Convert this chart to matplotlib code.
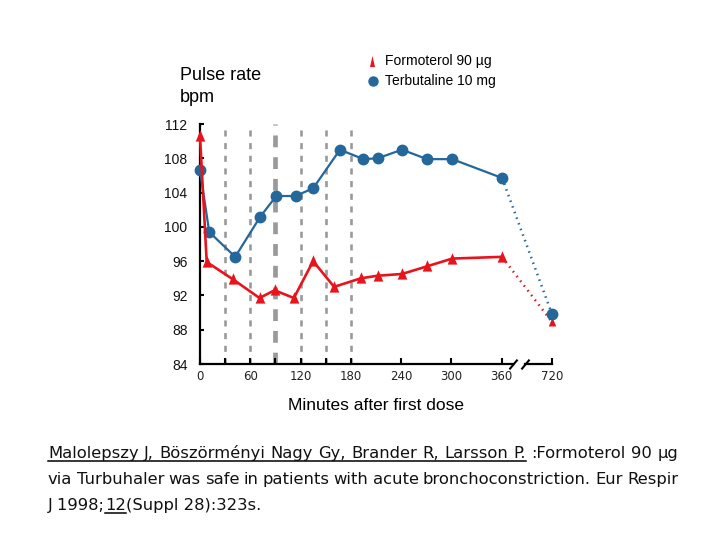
import numpy as np
import matplotlib
matplotlib.use("Agg")
import matplotlib.pyplot as plt
from matplotlib.lines import Line2D

# ---------------- data ----------------
minutes_formoterol = [0, 8, 39, 71, 89, 112, 135, 160, 192, 212, 241, 271, 301, 362, 720]
pulse_formoterol = [110.6, 95.9, 93.9, 91.7, 92.6, 91.7, 96.0, 93.0, 94.0, 94.3, 94.5, 95.4, 96.3, 96.5, 88.9]
minutes_terbutaline = [0, 11, 42, 72, 91, 114, 135, 167, 195, 212, 241, 271, 301, 363, 720]
pulse_terbutaline = [106.6, 99.4, 96.5, 101.2, 103.6, 103.6, 104.5, 109.0, 107.9, 108.0, 109.0, 107.9, 107.9, 105.7, 89.8]

x_tick_minutes = [0, 30, 60, 90, 120, 150, 180, 240, 300, 360, 720]
x_tick_labels = ["0", "", "60", "", "120", "", "180", "240", "300", "360", "720"]
y_ticks = [84, 88, 92, 96, 100, 104, 108, 112]
dose_minutes = [30, 60, 90, 120, 150, 180]
main_dose = 90

legend_labels = ["Formoterol 90 µg", "Terbutaline 10 mg"]
y_title = ["Pulse rate", "bpm"]
x_title = "Minutes after first dose"
citation_line1 = "Malolepszy J, Böszörményi Nagy Gy, Brander R, Larsson P. :Formoterol 90 µg"
citation_line2 = "via Turbuhaler was safe in patients with acute bronchoconstriction. Eur Respir"
citation_line3 = ["J 1998;", "12", "(Suppl 28):323s."]
underlined_words_line1 = 9

RED = "#e8141c"
BLUE = "#23679b"
GRAY = "#9a9a9a"

W, H = 720, 540
def fx(px): return px / W
def fy(py): return 1 - py / H

def fwd(x):
    x = np.asarray(x, dtype=float)
    return np.where(x <= 360, x, 360 + (x - 360) / 6.0)

def inv(y):
    y = np.asarray(y, dtype=float)
    return np.where(y <= 360, y, 360 + (y - 360) * 6.0)

fig = plt.figure(figsize=(7.2, 5.4), dpi=100)
ax = fig.add_axes([fx(200), fy(364), 352 / W, 240 / H])
ax.set_xscale("function", functions=(fwd, inv))
ax.set_xlim(0, 720)
ax.set_ylim(84, 112)

# dose lines
for t in dose_minutes:
    if t == main_dose:
        ax.axvline(t, color=GRAY, lw=3.4, ls=(0, (2.5, 2.1)), zorder=1)
    else:
        ax.axvline(t, color=GRAY, lw=1.9, ls=(0, (2.3, 2.5)), zorder=1)

tri = [(0, 1.1), (-0.85, -0.9), (0.85, -0.9)]
# terbutaline
ax.plot(minutes_terbutaline[:-1], pulse_terbutaline[:-1], color=BLUE, lw=1.6,
        marker="o", ms=7.5, zorder=3, clip_on=False)
ax.plot(minutes_terbutaline[-2:], pulse_terbutaline[-2:], color=BLUE, lw=1.8,
        ls=(0, (0.6, 1.8)), zorder=3, clip_on=False)
ax.plot(minutes_terbutaline[-1:], pulse_terbutaline[-1:], color=BLUE, ls="none",
        marker="o", ms=7.5, zorder=5, clip_on=False)
# formoterol
ax.plot(minutes_formoterol[:-1], pulse_formoterol[:-1], color=RED, lw=1.9,
        marker=tri, ms=9, mew=0, zorder=4, clip_on=False)
ax.plot(minutes_formoterol[-2:], pulse_formoterol[-2:], color=RED, lw=1.8,
        ls=(0, (0.6, 1.8)), zorder=4, clip_on=False)
ax.plot(minutes_formoterol[-1:], pulse_formoterol[-1:], color=RED, ls="none",
        marker=tri, ms=7, mew=0, zorder=4.5, clip_on=False)

# spines
for s in ["top", "right", "bottom"]:
    ax.spines[s].set_visible(False)
ax.spines["left"].set_linewidth(1.6)
xt = ax.get_xaxis_transform()
ax.plot([0, 444], [0, 0], transform=xt, color="black", lw=1.6, clip_on=False, zorder=6)
ax.plot([530, 720], [0, 0], transform=xt, color="black", lw=1.6, clip_on=False, zorder=6)
ax.plot([444, 530], [0, 0], transform=xt, ls="none", marker=[(-1, -1.2), (1, 1.2)],
        ms=7, mew=1.5, color="black", clip_on=False, zorder=6)

ax.set_xticks(x_tick_minutes)
ax.set_xticklabels(x_tick_labels, fontfamily="DejaVu Sans", fontsize=8.5, color="#222222")
ax.set_yticks(y_ticks)
ax.set_yticklabels([str(v) for v in y_ticks], fontfamily="Liberation Sans", fontsize=10, color="#111111")
ax.tick_params(axis="x", direction="in", length=4, width=1.5, pad=4)
ax.tick_params(axis="y", direction="in", length=3, width=1.5, pad=9)
ax.minorticks_off()

# titles
fig.text(fx(180), fy(76), y_title[0], ha="left", va="center", fontfamily="Liberation Sans", fontsize=13)
fig.text(fx(180), fy(98), y_title[1], ha="left", va="center", fontfamily="Liberation Sans", fontsize=13)
fig.text(fx(376), fy(406), x_title, ha="center", va="center", fontfamily="Liberation Sans", fontsize=12.5)

# legend
fig.add_artist(Line2D([fx(372)], [fy(61)], transform=fig.transFigure, ls="none",
                      marker=[(0, 1), (-0.45, -1), (0.45, -1)], ms=8, color=RED, mew=0))
fig.add_artist(Line2D([fx(373)], [fy(81)], transform=fig.transFigure, ls="none",
                      marker="o", ms=6.5, color=BLUE))
fig.text(fx(385), fy(61), legend_labels[0], ha="left", va="center", fontfamily="Liberation Sans", fontsize=10)
fig.text(fx(385), fy(81), legend_labels[1], ha="left", va="center", fontfamily="Liberation Sans", fontsize=10)

# citation
renderer = fig.canvas.get_renderer()
CIT = dict(fontfamily="DejaVu Sans", fontsize=11.8, va="baseline", ha="left", color="#111111")
X0, X1 = 48, 678

def justified(line, base, underline_n=0):
    words = line.split(" ")
    texts = [fig.text(0, fy(base), w, **CIT) for w in words]
    widths = [t.get_window_extent(renderer).width for t in texts]
    gap = (X1 - X0 - sum(widths)) / (len(words) - 1)
    x = X0
    ends = []
    for t, w in zip(texts, widths):
        t.set_x(fx(x))
        ends.append(x + w)
        x += w + gap
    if underline_n:
        fig.add_artist(Line2D([fx(X0), fx(ends[underline_n - 1])], [fy(base + 2.5)] * 2,
                              transform=fig.transFigure, color="black", lw=1.1))

justified(citation_line1, 458, underlined_words_line1)
justified(citation_line2, 484)
x = X0
for i, part in enumerate(citation_line3):
    t = fig.text(fx(x), fy(510), part, **CIT)
    w = t.get_window_extent(renderer).width
    if i == 1:
        fig.add_artist(Line2D([fx(x), fx(x + w)], [fy(510 + 2.5)] * 2,
                              transform=fig.transFigure, color="black", lw=1.1))
    x += w

fig.savefig("out.png", dpi=100)
